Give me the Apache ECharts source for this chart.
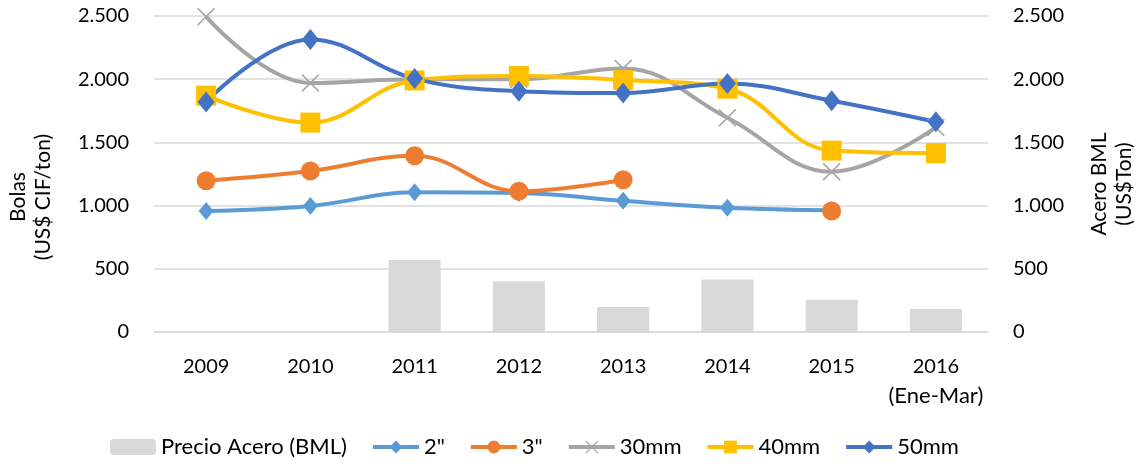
<!DOCTYPE html>
<html>
<head>
<meta charset="utf-8">
<script src="https://cdn.jsdelivr.net/npm/echarts@6/dist/echarts.min.js"></script>
<style>
  html, body { margin: 0; padding: 0; background: #fff; }
  #chart { width: 1139px; height: 466px; }
</style>
</head>
<body>
<div id="chart"></div>
<script>
// categorias y series (precio por ton)
const years = ['2009', '2010', '2011', '2012', '2013', '2014', '2015', '2016\n(Ene-Mar)'];
const acero = [null, null, 569, 402, 197, 415, 255, 181];
const bolas2 = [957, 997, 1105, 1100, 1038, 983, 963, null];
const bolas3 = [1197, 1274, 1395, 1113, 1205, null, 957, null];
const bolas30 = [2495, 1970, 2000, 2000, 2085, 1695, 1268, 1618];
const bolas40 = [1870, 1657, 1990, 2025, 1993, 1925, 1435, 1415];
const bolas50 = [1820, 2315, 2005, 1905, 1890, 1965, 1830, 1663];
const yTicks = [0, 500, 1000, 1500, 2000, 2500];

const FONT = 'Lato';
const fmt = v => String(v).replace(/\B(?=(\d{3})+(?!\d))/g, '.');
const cross = 'path://M1,0 L8,7 L15,0 L16,1 L9,8 L16,15 L15,16 L8,9 L1,16 L0,15 L7,8 L0,1 Z';

const chart = echarts.init(document.getElementById('chart'));

function lineSeries(name, data, color, symbol, size) {
  return {
    name: name,
    type: 'line',
    data: data,
    smooth: 0.4,
    connectNulls: false,
    symbol: symbol,
    symbolSize: size,
    showAllSymbol: true,
    lineStyle: { color: color, width: 4 },
    itemStyle: { color: color },
    emphasis: { disabled: true }
  };
}

const axisY = (pos, name) => ({
  type: 'value',
  position: pos,
  min: yTicks[0],
  max: yTicks[yTicks.length - 1],
  interval: 500,
  name: name,
  nameLocation: 'middle',
  nameRotate: 90,
  nameGap: pos === 'left' ? 98 : 99,
  nameTextStyle: {
    fontFamily: FONT, fontSize: 21, color: '#000', lineHeight: 25,
    padding: pos === 'left' ? [0, 46, 0, 0] : [0, 20, 0, 0]
  },
  axisLine: { show: false },
  axisTick: { show: false },
  axisLabel: { fontFamily: FONT, fontSize: 20, color: '#000', margin: 25, formatter: fmt },
  splitLine: { show: pos === 'left', lineStyle: { color: '#d9d9d9', width: 1.5 } }
});

chart.setOption({
  animation: false,
  grid: { left: 154, right: 151, top: 16, bottom: 134, outerBoundsMode: 'none' },
  legend: {
    bottom: 3,
    left: 105,
    itemWidth: 46,
    itemHeight: 16,
    itemGap: 24,
    lineStyle: { width: 4 },
    textStyle: { fontFamily: FONT, fontSize: 22, color: '#000' },
    data: ['Precio Acero (BML)', '2"', '3"', '30mm', '40mm', '50mm']
  },
  xAxis: {
    type: 'category',
    data: years,
    axisLine: { show: true, lineStyle: { color: '#d9d9d9', width: 1.5 } },
    axisTick: { show: false },
    axisLabel: {
      interval: 0, fontFamily: FONT, fontSize: 20, color: '#000', lineHeight: 29, margin: 20,
      formatter: v => v.split('\n').map((s, i) => i ? '{p|' + s + '}' : s).join('\n'),
      rich: { p: { fontFamily: FONT, fontSize: 22, color: '#000', lineHeight: 29 } }
    }
  },
  yAxis: [axisY('left', 'Bolas\n(US$ CIF/ton)'), axisY('right', 'Acero BML\n(US$Ton)')],
  series: [
    {
      name: 'Precio Acero (BML)',
      type: 'bar',
      yAxisIndex: 1,
      data: acero,
      barWidth: '50%',
      itemStyle: { color: '#d9d9d9' },
      emphasis: { disabled: true }
    },
    lineSeries('2"', bolas2, '#5b9bd5', 'diamond', [15, 18]),
    lineSeries('3"', bolas3, '#ed7d31', 'circle', 19),
    lineSeries('30mm', bolas30, '#a5a5a5', cross, [18, 18]),
    lineSeries('40mm', bolas40, '#ffc000', 'rect', [20, 20]),
    lineSeries('50mm', bolas50, '#4472c4', 'diamond', [17, 21])
  ]
});
</script>
</body>
</html>
